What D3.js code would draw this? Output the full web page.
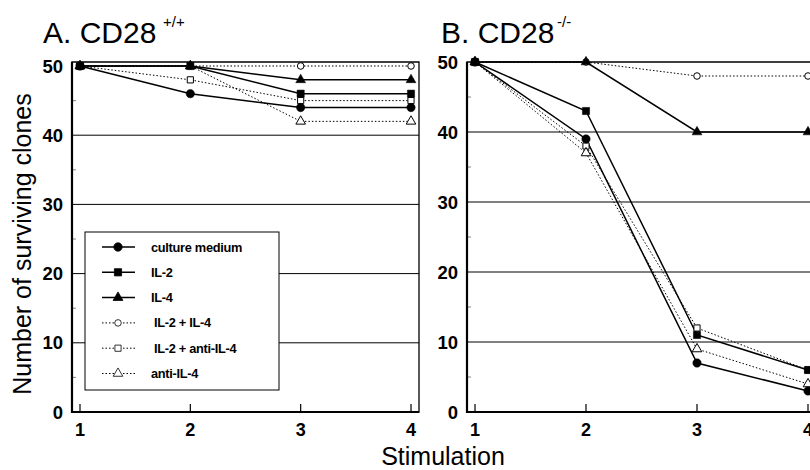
<!DOCTYPE html>
<html>
<head>
<meta charset="utf-8">
<script src="https://cdn.jsdelivr.net/npm/d3@7"></script>
<style>
  body { margin: 0; background: #fff; }
  svg { display: block; font-family: "Liberation Sans", Arial, sans-serif; }
</style>
</head>
<body>
<svg id="chart" width="810" height="470"></svg>
<script>
var stimulations = [1, 2, 3, 4]
var yTicks = [0, 10, 20, 30, 40, 50]
var seriesNames = ['culture medium', 'IL-2', 'IL-4', 'IL-2 + IL-4', 'IL-2 + anti-IL-4', 'anti-IL-4']

// panel A, CD28 +/+
var wtMedium = [50, 46, 44, 44]
var wtIL2 = [50, 50, 46, 46]
var wtIL4 = [50, 50, 48, 48]
var wtIL2IL4 = [50, 50, 50, 50]
var wtIL2antiIL4 = [50, 48, 45, 45]
var wtAntiIL4 = [50, 50, 42, 42]

// panel B, CD28 -/-
var koMedium = [50, 39, 7, 3]
var koIL2 = [50, 43, 11, 6]
var koIL4 = [50, 50, 40, 40]
var koIL2IL4 = [50, 50, 48, 48]
var koIL2antiIL4 = [50, 38, 12, 6]
var koAntiIL4 = [50, 37, 9, 4]

var styles = [
  {sym: d3.symbolCircle, size: 55, fill: '#000', dash: null, width: 1.5},
  {sym: d3.symbolSquare, size: 52, fill: '#000', dash: null, width: 1.5},
  {sym: d3.symbolTriangle, size: 42, fill: '#000', dash: null, width: 1.5},
  {sym: d3.symbolCircle, size: 34, fill: '#fff', dash: '1.5,2', width: 1},
  {sym: d3.symbolSquare, size: 38, fill: '#fff', dash: '1.5,2', width: 1},
  {sym: d3.symbolTriangle, size: 40, fill: '#fff', dash: '1.5,2', width: 1},
]

var svg = d3.select('#chart')

var panels = [
  {title: 'A. CD28', sup: '+/+', tx: 43, sx: 163, left: 72, right: 419, top: 62,
   x: d3.scaleLinear().domain([1, 4]).range([80, 411]),
   y: d3.scaleLinear().domain([0, 50]).range([412, 66]),
   data: [wtMedium, wtIL2, wtIL4, wtIL2IL4, wtIL2antiIL4, wtAntiIL4], legend: true},
  {title: 'B. CD28', sup: '-/-', tx: 441, sx: 557, left: 467, right: 816, top: 62,
   x: d3.scaleLinear().domain([1, 4]).range([475, 808]),
   y: d3.scaleLinear().domain([0, 50]).range([412, 62]),
   data: [koMedium, koIL2, koIL4, koIL2IL4, koIL2antiIL4, koAntiIL4], legend: false},
]

panels.forEach(function(p){
  var g = svg.append('g')

  // gridlines
  g.selectAll('line.grid').data([10, 20, 30, 40]).enter().append('line')
    .attr('x1', p.left).attr('x2', p.right)
    .attr('y1', d => p.y(d)).attr('y2', d => p.y(d))
    .attr('stroke', '#000').attr('stroke-width', 1)

  // minor ticks on the y axis
  g.selectAll('line.minor').data([5, 15, 25, 35, 45]).enter().append('line')
    .attr('x1', p.left).attr('x2', p.left + 4)
    .attr('y1', d => p.y(d)).attr('y2', d => p.y(d))
    .attr('stroke', '#666').attr('stroke-width', 0.8)

  // frame
  g.append('path')
    .attr('d', 'M' + p.left + ',' + p.y(0) + 'V' + p.top + 'H' + p.right + 'V' + p.y(0) + 'Z')
    .attr('fill', 'none').attr('stroke', '#000').attr('stroke-width', 1.3)
  g.append('line').attr('x1', p.left).attr('x2', p.left).attr('y1', p.top).attr('y2', p.y(0) + 1)
    .attr('stroke', '#000').attr('stroke-width', 2.2)
  g.append('line').attr('x1', p.left).attr('x2', p.right).attr('y1', p.y(0)).attr('y2', p.y(0))
    .attr('stroke', '#000').attr('stroke-width', 2.2)

  // x ticks (inward)
  g.selectAll('line.xt').data(stimulations).enter().append('line')
    .attr('x1', d => p.x(d)).attr('x2', d => p.x(d))
    .attr('y1', p.y(0)).attr('y2', p.y(0) - 8)
    .attr('stroke', '#000').attr('stroke-width', 1.2)

  g.selectAll('text.xl').data(stimulations).enter().append('text')
    .attr('x', d => p.x(d)).attr('y', p.y(0) + 24)
    .attr('text-anchor', 'middle').attr('font-size', 18).attr('font-weight', 'bold')
    .text(d => d)

  g.selectAll('text.yl').data(yTicks).enter().append('text')
    .attr('x', p.left - 9).attr('y', d => p.y(d) + 6.5)
    .attr('text-anchor', 'end').attr('font-size', 18.5).attr('font-weight', 'bold')
    .text(d => d)

  // title
  g.append('text').attr('x', p.tx).attr('y', 43).attr('font-size', 30).text(p.title)
  g.append('text').attr('x', p.sx).attr('y', 27).attr('font-size', 15).text(p.sup)

  // legend box (drawn before series so lines pass over it)
  if (p.legend) {
    g.append('rect').attr('x', 85).attr('y', 232).attr('width', 194).attr('height', 158)
      .attr('fill', '#fff').attr('stroke', '#000').attr('stroke-width', 1)
  }

  var line = d3.line().x((d, i) => p.x(stimulations[i])).y(d => p.y(d))

  // draw dotted series first, solid on top
  var order = [3, 4, 5, 0, 1, 2]
  order.forEach(function(si){
    var s = styles[si]
    g.append('path').attr('d', line(p.data[si]))
      .attr('fill', 'none').attr('stroke', '#000').attr('stroke-width', s.width)
      .attr('stroke-dasharray', s.dash)
  })
  order.forEach(function(si){
    var s = styles[si]
    g.selectAll(null).data(p.data[si]).enter().append('path')
      .attr('transform', (d, i) => 'translate(' + p.x(stimulations[i]) + ',' + p.y(d) + ')')
      .attr('d', d3.symbol().type(s.sym).size(s.size))
      .attr('fill', s.fill).attr('stroke', '#000').attr('stroke-width', s.fill == '#fff' ? 1 : 0.5)
  })

  if (p.legend) {
    var rows = g.selectAll('g.leg').data(seriesNames).enter().append('g')
      .attr('transform', (d, i) => 'translate(0,' + (247 + i * 25.3) + ')')
    rows.append('line').attr('x1', 102).attr('x2', 135).attr('y1', 0).attr('y2', 0)
      .attr('stroke', '#000').attr('stroke-width', (d, i) => styles[i].width)
      .attr('stroke-dasharray', (d, i) => styles[i].dash)
    rows.append('path').attr('transform', 'translate(118,0)')
      .attr('d', (d, i) => d3.symbol().type(styles[i].sym).size(styles[i].size)())
      .attr('fill', (d, i) => styles[i].fill).attr('stroke', '#000').attr('stroke-width', 0.8)
    rows.append('text').attr('x', (d, i) => i < 3 || i == 5 ? 151 : 154).attr('y', 4.5)
      .attr('font-size', 12.8).attr('font-weight', 'bold').attr('letter-spacing', -0.3).text(d => d)
  }
})

// axis titles
svg.append('text').attr('transform', 'translate(31,244) rotate(-90)')
  .attr('text-anchor', 'middle').attr('font-size', 25).text('Number of surviving clones')
svg.append('text').attr('x', 443).attr('y', 465)
  .attr('text-anchor', 'middle').attr('font-size', 25).text('Stimulation')
</script>
</body>
</html>
